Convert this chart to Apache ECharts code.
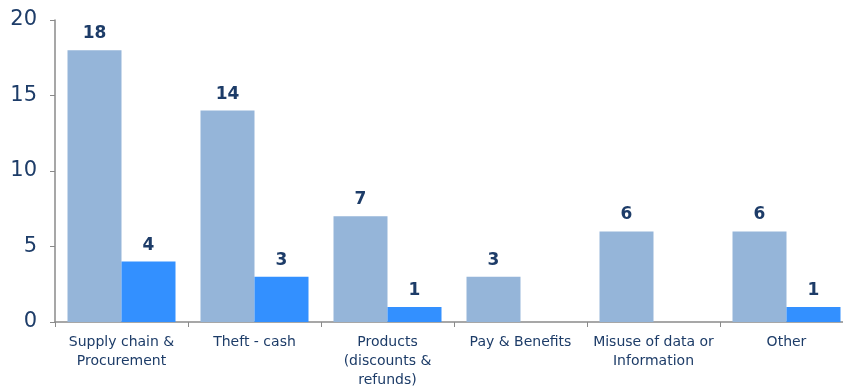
<!DOCTYPE html>
<html>
<head>
<meta charset="utf-8">
<script src="https://cdn.jsdelivr.net/npm/echarts@6/dist/echarts.min.js"></script>
<style>
  html, body { margin: 0; padding: 0; background: #fff; }
  #chart { width: 843px; height: 387px; }
</style>
</head>
<body>
<div id="chart"></div>
<script>
// Fraud cases by category, two periods
const categories = [
  'Supply chain &\nProcurement',
  'Theft - cash',
  'Products\n(discounts &\nrefunds)',
  'Pay & Benefits',
  'Misuse of data or\nInformation',
  'Other'
];
const seriesA = [18, 14, 7, 3, 6, 6];
const seriesB = [4, 3, 1, null, null, 1];
const yTicks = { min: 0, max: 20, interval: 5 };

const textColor = '#1d3c68';
const axisColor = '#8a8a8a';
const font = '"DejaVu Sans", Arial, sans-serif';

const chart = echarts.init(document.getElementById('chart'), null, { renderer: 'canvas' });

const barLabel = {
  show: true,
  position: 'top',
  distance: 8,
  color: textColor,
  fontFamily: font,
  fontWeight: 'bold',
  fontSize: 17
};

chart.setOption({
  animation: false,
  grid: {
    left: 55, top: 20, width: 798, bottom: 65,
    containLabel: false,
    outerBoundsMode: 'none'
  },
  xAxis: {
    type: 'category',
    data: categories,
    axisLine: { lineStyle: { color: axisColor, width: 1.5 } },
    axisTick: { show: true, length: 5, lineStyle: { color: axisColor } },
    axisLabel: {
      color: textColor,
      fontFamily: font,
      fontSize: 14,
      lineHeight: 19,
      margin: 11,
      interval: 0
    }
  },
  yAxis: {
    type: 'value',
    min: yTicks.min,
    max: yTicks.max,
    interval: yTicks.interval,
    splitLine: { show: false },
    axisLine: { show: true, lineStyle: { color: axisColor, width: 1.5 } },
    axisTick: { show: true, length: 5, lineStyle: { color: axisColor } },
    axisLabel: {
      color: textColor,
      fontFamily: font,
      fontSize: 21,
      margin: 18
    }
  },
  series: [
    {
      type: 'bar',
      data: seriesA,
      barWidth: 54,
      barGap: '0%',
      itemStyle: { color: '#95b5d9' },
      label: barLabel
    },
    {
      type: 'bar',
      data: seriesB,
      barWidth: 54,
      barGap: '0%',
      itemStyle: { color: '#3390ff' },
      label: barLabel
    }
  ]
});
</script>
</body>
</html>
